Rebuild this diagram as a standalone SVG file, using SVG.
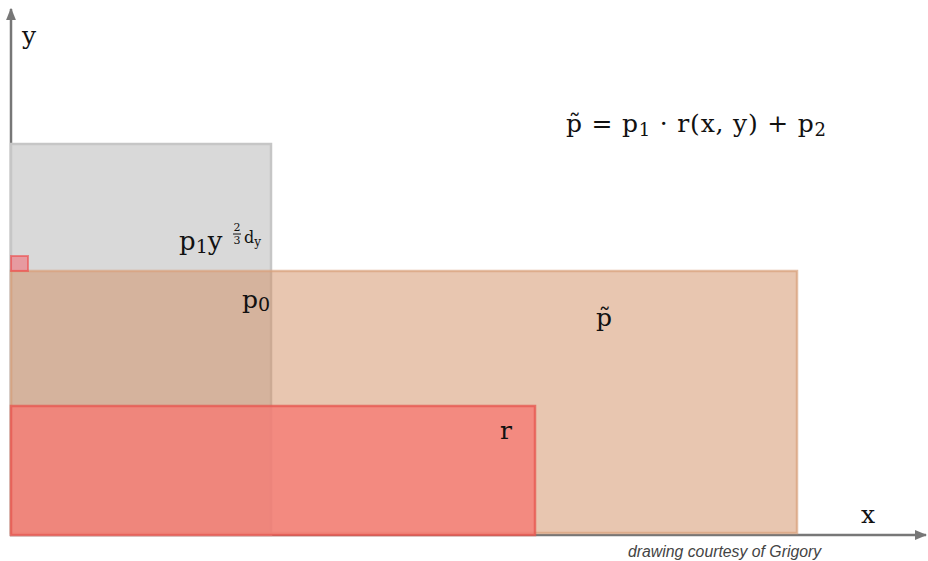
<svg xmlns="http://www.w3.org/2000/svg" width="928" height="561" viewBox="0 0 928 561">
<defs>
<style>
.m{font-family:"DejaVu Serif","Liberation Serif",serif;fill:#111;}
.ax{stroke:#777;stroke-width:2.5;fill:none;}
.credit{font-family:"Liberation Sans",Arial,sans-serif;font-style:italic;font-size:15.8px;fill:#444;}
</style>
<marker id="arr" viewBox="0 0 10 10" refX="9" refY="5" markerWidth="5" markerHeight="5" orient="auto" markerUnits="strokeWidth">
<path d="M0,1 L10,5 L0,9 z" fill="#777"/>
</marker>
</defs>
<rect width="928" height="561" fill="#fff"/>
<g id="axes">
<line class="ax" x1="11" y1="536" x2="11" y2="9" marker-end="url(#arr)"/>
<line class="ax" x1="10" y1="535" x2="926" y2="535" marker-end="url(#arr)"/>
</g>
<g id="gray-region">
<rect x="11" y="144" width="260" height="391" fill="#d9d9d9" stroke="#c6c6c6" stroke-width="2.5"/>
</g>
<g id="orange-region">
<rect x="11" y="271" width="786" height="262" fill="#d18d61" fill-opacity="0.5" stroke="#d8a17c" stroke-opacity="0.7" stroke-width="2.5"/>
</g>
<g id="red-region">
<rect x="11" y="406" width="524" height="129" fill="#f57b74" fill-opacity="0.8" stroke="#e65a52" stroke-opacity="0.8" stroke-width="2.5"/>
</g>
<g id="small-square">
<rect x="11" y="256" width="17" height="15" fill="#f0707a" fill-opacity="0.6" stroke="#ee4a4a" stroke-opacity="0.6" stroke-width="2"/>
</g>
<g id="labels">
<text class="m" x="22" y="44" font-size="25">y</text>
<text class="m" x="566" y="132" font-size="25" letter-spacing="0.8">p̃ = p<tspan font-size="18" dy="4">1</tspan><tspan dy="-4"> · r(x, y) + p</tspan><tspan font-size="18" dy="4">2</tspan></text>
<text class="m" x="179" y="250" font-size="26">p<tspan font-size="19" dy="3">1</tspan><tspan dy="-3">y</tspan></text>
<text class="m" x="237" y="231" font-size="11" text-anchor="middle">2</text>
<line x1="233" y1="234" x2="241" y2="234" stroke="#111" stroke-width="1"/>
<text class="m" x="237" y="244" font-size="11" text-anchor="middle">3</text>
<text class="m" x="244" y="243" font-size="16">d<tspan font-size="12" dy="3">y</tspan></text>
<text class="m" x="242" y="308" font-size="25">p<tspan font-size="19" dy="3">0</tspan></text>
<text class="m" x="596" y="326" font-size="25">p̃</text>
<text class="m" x="500" y="439" font-size="25">r</text>
<text class="m" x="861" y="523" font-size="25">x</text>
<text class="credit" x="628" y="557">drawing courtesy of Grigory</text>
</g>
</svg>
